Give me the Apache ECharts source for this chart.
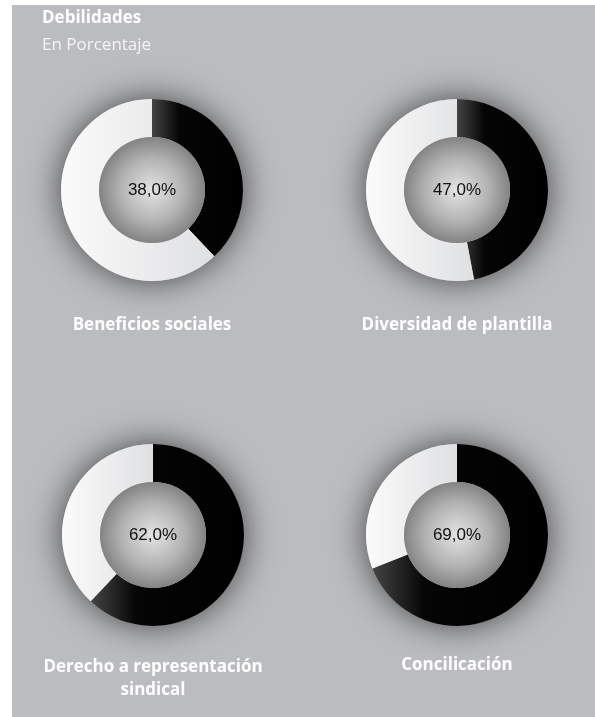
<!DOCTYPE html>
<html><head><meta charset="utf-8">
<script src="https://cdn.jsdelivr.net/npm/echarts@6/dist/echarts.min.js"></script>
<style>html,body{margin:0;padding:0;background:#fff}#c{width:595px;height:717px}</style>
</head><body><div id="c"></div>
<script>
var categories = ['Beneficios sociales', 'Diversidad de plantilla', 'Derecho a representación\nsindical', 'Concilicación'];
var values = [38.0, 47.0, 62.0, 69.0];
var titleText = 'Debilidades';
var subtitleText = 'En Porcentaje';

var centers = [[152, 190], [457, 190], [153, 535], [457, 535]];
var labelY = [325, 325, 679, 665];
var R_OUT = 91, R_IN = 53;

var chart = echarts.init(document.getElementById('c'));
var series = [];
var graphics = [
  {type:'rect', shape:{x:12,y:5,width:583,height:712}, style:{fill:'#bbbcbf'}, z:-10}
];
var fontLab = '"Open Sans", sans-serif';

categories.forEach(function(cat, i){
  var c = centers[i];
  series.push({
    type:'pie', center:c, radius:[0, R_OUT], silent:true, label:{show:false},
    itemStyle:{color:'#bbbcbf', shadowBlur:34, shadowColor:'rgba(0,0,0,0.65)'},
    data:[{value:1}], z:1, animation:false
  });
  series.push({
    type:'pie', center:c, radius:[R_IN, R_OUT], startAngle:90, clockwise:true,
    silent:true, label:{show:false}, labelLine:{show:false}, animation:false, z:2,
    data:[
      {value:values[i], itemStyle:{color:new echarts.graphic.LinearGradient(0,0,1,0,[{offset:0,color:'#454545'},{offset:0.3,color:'#050505'},{offset:1,color:'#000'}])}},
      {value:100 - values[i], itemStyle:{color:new echarts.graphic.LinearGradient(0,0,1,0,[{offset:0,color:'#fbfbfb'},{offset:1,color:'#dfe0e2'}])}}
    ]
  });
  series.push({
    type:'pie', center:c, radius:[0, R_IN], silent:true, animation:false, z:3,
    label:{show:true, position:'center', formatter: values[i].toFixed(1).replace('.', ',') + '%',
      fontFamily:'"Liberation Sans", Arial, sans-serif', fontSize:17, color:'#111'},
    labelLine:{show:false},
    itemStyle:{color:new echarts.graphic.RadialGradient(0.5,0.5,0.5,[{offset:0,color:'#e4e4e4'},{offset:0.6,color:'#b2b2b2'},{offset:1,color:'#838383'}])},
    data:[{value:1}]
  });
  graphics.push({type:'text', x:c[0], y:labelY[i], z:10,
    style:{text:cat, fill:'#ffffff', font:'bold 17px ' + fontLab, textAlign:'center', textVerticalAlign:'middle', lineHeight:23}});
});

graphics.push({type:'text', x:42, y:18, z:10, style:{text:titleText, fill:'#ffffff', font:'bold 17px ' + fontLab, textVerticalAlign:'middle'}});
graphics.push({type:'text', x:42, y:45, z:10, style:{text:subtitleText, fill:'#f4f4f4', font:'17px ' + fontLab, textVerticalAlign:'middle'}});

chart.setOption({
  animation:false,
  backgroundColor:'#ffffff',
  graphic:graphics,
  series:series
});
</script></body></html>
